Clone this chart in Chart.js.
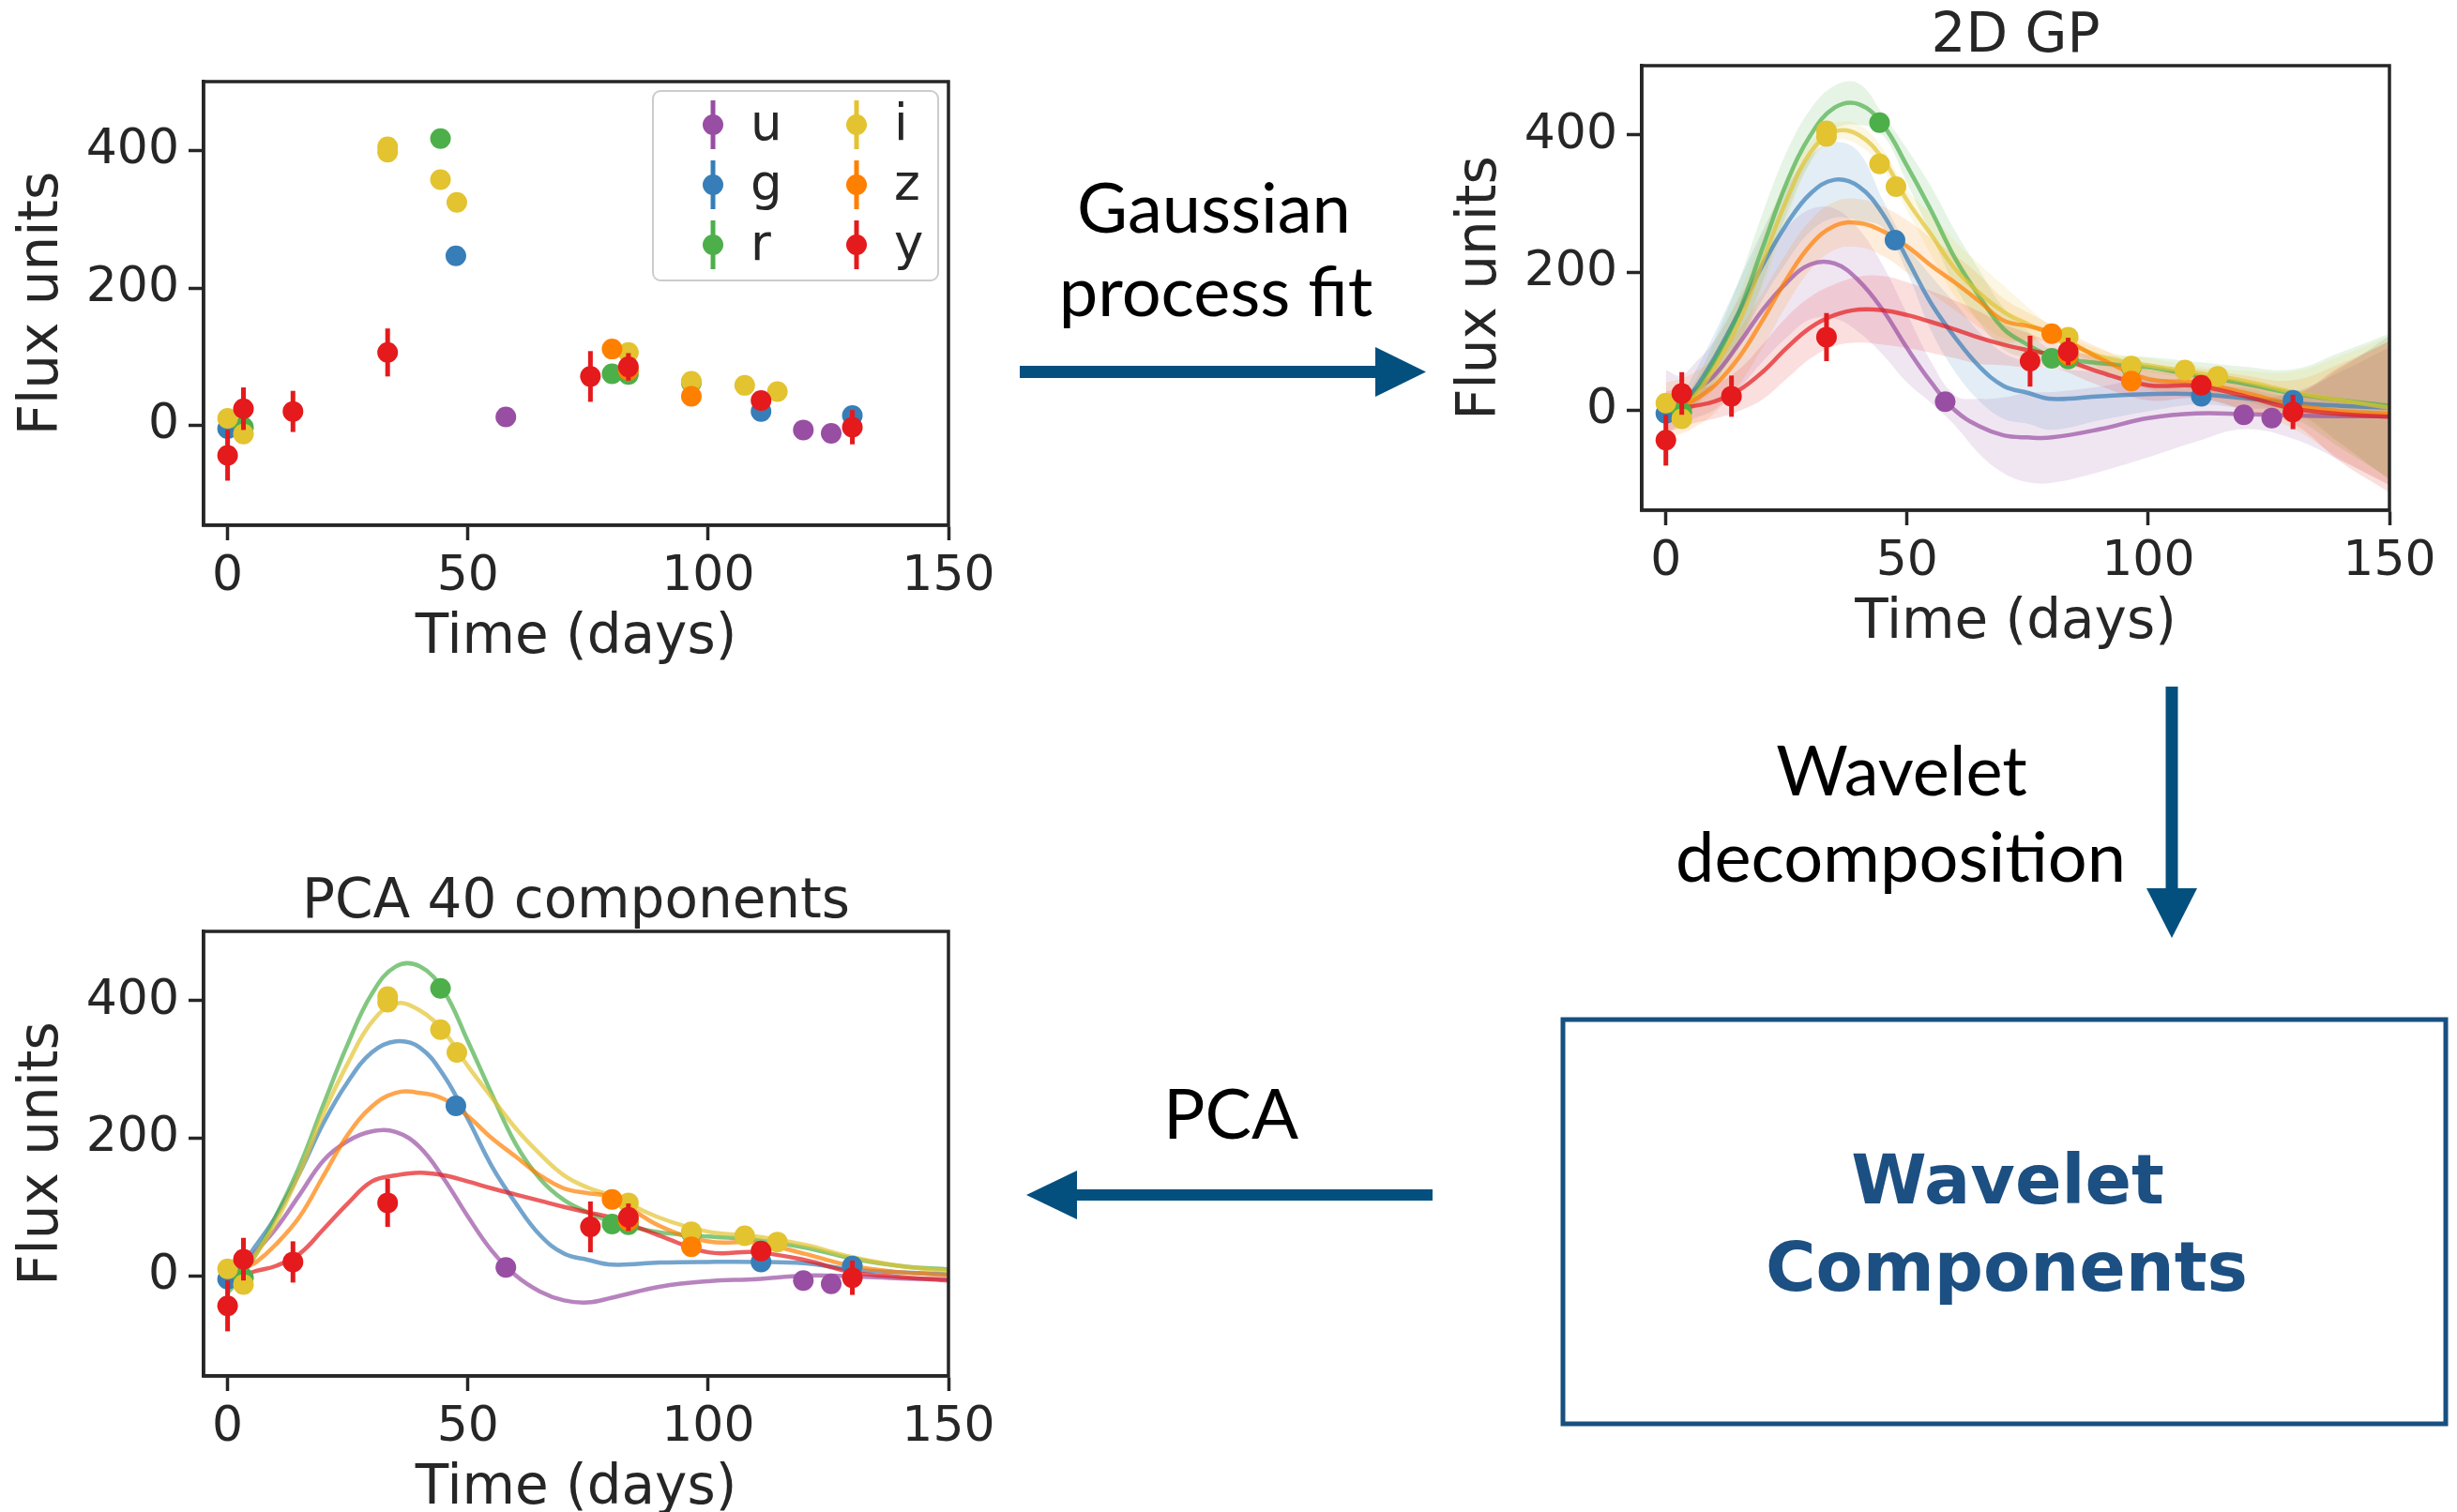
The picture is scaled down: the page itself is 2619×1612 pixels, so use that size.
<!DOCTYPE html>
<html>
<head>
<meta charset="utf-8">
<script src="https://cdn.jsdelivr.net/npm/chart.js@4.4.1/dist/chart.umd.min.js"></script>
<style>
  html, body { margin: 0; padding: 0; background: #fff; }
  body { width: 2619px; height: 1612px; position: relative; overflow: hidden; }
  canvas { position: absolute; }
  #overlay { position: absolute; left: 0; top: 0; }
</style>
</head>
<body>
<canvas id="rawChart" width="1080" height="720" style="left:0;top:0"></canvas>
<canvas id="gpChart" width="1083" height="704" style="left:1533px;top:0"></canvas>
<canvas id="pcaChart" width="1080" height="704" style="left:0;top:923px"></canvas>

<svg id="overlay" width="2619" height="1612" xmlns="http://www.w3.org/2000/svg">
  <g fill="#03507f">
    <rect x="1087" y="390" width="380" height="13"/>
    <polygon points="1466,370 1520,396.5 1466,423"/>
    <rect x="2308.5" y="732" width="13" height="216"/>
    <polygon points="2288,947 2342,947 2315,1000"/>
    <rect x="1147" y="1268" width="380" height="12"/>
    <polygon points="1148,1248 1094,1274 1148,1300"/>
  </g>
  <g font-family="Lato" font-size="74" text-anchor="middle" fill="#000">
    <text x="1294" y="248">Gaussian</text>
    <text x="1296" y="337">process fit</text>
    <text x="2027" y="848">Wavelet</text>
    <text x="2026" y="940">decomposition</text>
    <text x="1312" y="1214">PCA</text>
  </g>
  <rect x="1666" y="1087" width="941" height="431" fill="none" stroke="#18507f" stroke-width="5"/>
  <g font-family="DejaVu Sans" font-weight="bold" font-size="73" text-anchor="middle" fill="#1c4f82">
    <text x="2140" y="1283">Wavelet</text>
    <text x="2139" y="1376">Components</text>
  </g>
</svg>

<script>
// passbands and their colours
const bandNames = ['u', 'g', 'r', 'i', 'z', 'y']
const bandColors = ['#984ea3', '#377eb8', '#4daf4a', '#e3c330', '#ff7f00', '#e41a1c']

// observations: [time (days), flux, error]
const obsU = [[57.9, 12, 8], [119.8, -7, 8], [125.6, -12, 8]]
const obsG = [[0, -5, 6], [47.5, 247, 5], [111, 20, 6], [130, 14, 6]]
const obsR = [[3.3, -3, 6], [44.3, 418, 6], [80, 75, 6], [83.4, 74, 8], [96.5, 62, 6]]
const obsI = [[0, 10, 5], [3.3, -13, 5], [33.3, 406, 6], [33.3, 398, 6], [44.3, 358, 6], [47.7, 325, 6],
              [83.4, 106, 6], [96.5, 64, 6], [107.6, 58, 6], [114.4, 49, 6]]
const obsZ = [[80, 111, 12], [83.4, 80, 15], [96.5, 42, 8]]
const obsY = [[0, -44, 37], [3.3, 24, 31], [13.6, 20, 30], [33.3, 106, 35], [75.5, 71, 37],
              [83.4, 85, 20], [111, 36, 10], [130, -3, 25]]

// time grid of the fitted curves
const curveDays = [0, 3, 6, 10, 15, 20, 25, 30, 35, 40, 45, 50, 55, 60, 65, 70, 75, 80, 90, 100, 110, 120, 130, 140, 150]

// 2D GP mean
const gpU = [10, 15, 28, 50, 95, 145, 185, 212, 213, 188, 145, 90, 40, -1, -24, -37, -40, -40, -28, -12, -5, -6, -8, -9, -9]
const gpG = [-5, 5, 30, 75, 140, 210, 270, 315, 335, 325, 285, 220, 155, 105, 63, 35, 25, 16, 20, 23, 23, 17, 10, 6, 3]
const gpR = [-5, 3, 25, 70, 140, 235, 330, 400, 440, 445, 415, 355, 290, 220, 165, 118, 95, 78, 68, 62, 50, 38, 24, 14, 6]
const gpI = [10, 0, 20, 60, 125, 215, 305, 375, 405, 400, 365, 305, 255, 205, 170, 143, 125, 110, 78, 65, 54, 42, 26, 14, 3]
const gpZ = [0, 5, 15, 35, 75, 130, 190, 240, 268, 272, 260, 238, 210, 185, 158, 130, 122, 112, 75, 45, 40, 25, 8, -2, -5]
const gpY = [-3, 2, 6, 12, 28, 55, 90, 120, 138, 146, 145, 138, 128, 117, 105, 95, 87, 80, 55, 36, 35, 20, 2, -6, -10]

// 2D GP 1-sigma half widths
const sigU = [48, 35, 40, 50, 65, 75, 80, 80, 80, 75, 65, 50, 30, 22, 40, 55, 65, 66, 62, 57, 41, 22, 34, 65, 100]
const sigG = [15, 15, 25, 35, 45, 50, 55, 55, 55, 50, 20, 20, 40, 50, 50, 48, 45, 45, 35, 25, 15, 15, 12, 55, 105]
const sigR = [12, 10, 15, 30, 45, 50, 45, 38, 32, 30, 15, 25, 35, 40, 38, 30, 20, 10, 12, 15, 20, 25, 35, 70, 105]
const sigI = [10, 10, 15, 30, 40, 40, 30, 15, 12, 15, 15, 15, 30, 40, 42, 38, 25, 12, 10, 10, 10, 15, 30, 65, 105]
const sigZ = [40, 40, 40, 40, 40, 40, 38, 36, 35, 35, 36, 38, 40, 40, 38, 32, 20, 12, 15, 15, 20, 25, 35, 70, 105]
const sigY = [30, 28, 25, 25, 30, 40, 45, 45, 45, 48, 50, 48, 45, 42, 38, 30, 25, 18, 20, 22, 18, 20, 22, 70, 110]

// reconstruction from 40 PCA components
const pcaU = [-5, 14, 36, 68, 118, 168, 196, 210, 209, 187, 141, 86, 36, 0, -23, -36, -39, -32, -16, -8, -5, 0, -1, -4, -5]
const pcaG = [0, 18, 45, 86, 150, 223, 282, 325, 341, 332, 291, 228, 159, 105, 59, 32, 23, 16, 19, 20, 20, 18, 9, 5, 2]
const pcaR = [-25, 0, 32, 86, 160, 250, 337, 410, 450, 450, 414, 341, 264, 191, 141, 110, 92, 78, 63, 57, 52, 41, 25, 14, 9]
const pcaI = [-14, 5, 32, 77, 150, 237, 309, 369, 396, 386, 355, 305, 259, 214, 177, 146, 128, 116, 84, 64, 57, 45, 27, 14, 7]
const pcaZ = [-9, 9, 20, 45, 86, 146, 205, 246, 266, 266, 257, 232, 200, 173, 146, 127, 120, 114, 72, 50, 48, 32, 14, 5, 1]
const pcaY = [-7, 0, 7, 14, 32, 68, 105, 137, 146, 150, 146, 137, 127, 118, 109, 100, 92, 84, 58, 34, 34, 23, 5, -2, -7]

// axes
const xTickValues = [0, 50, 100, 150]
const yTickValues = [0, 200, 400]
const xRange = [-5, 150]
const yRange = [-146, 501]

const observations = [obsU, obsG, obsR, obsI, obsZ, obsY]
const gpMeans = [gpU, gpG, gpR, gpI, gpZ, gpY]
const gpSigmas = [sigU, sigG, sigR, sigI, sigZ, sigY]
const pcaMeans = [pcaU, pcaG, pcaR, pcaI, pcaZ, pcaY]

const ink = '#262626'
const fontFamily = 'DejaVu Sans'

const rgba = (hex, a) => {
    const n = parseInt(hex.slice(1), 16)
    return `rgba(${(n >> 16) & 255}, ${(n >> 8) & 255}, ${n & 255}, ${a})`
}

const pointsDataset = (i) => ({
    label: bandNames[i],
    data: observations[i].map(p => ({ x: p[0], y: p[1] })),
    errors: observations[i].map(p => p[2]),
    showLine: false,
    pointRadius: 11,
    pointHoverRadius: 11,
    pointBorderWidth: 0,
    pointBackgroundColor: bandColors[i],
    backgroundColor: bandColors[i],
    borderColor: bandColors[i],
    order: 10 - i
})

const curveDataset = (i, values) => ({
    label: bandNames[i] + ' curve',
    data: curveDays.map((t, k) => ({ x: t, y: values[k] })),
    borderColor: rgba(bandColors[i], 0.7),
    borderWidth: 4.5,
    pointRadius: 0,
    tension: 0.4,
    fill: false,
    order: 30 - i
})

const bandDatasets = (i) => {
    const mean = gpMeans[i]
    const sig = gpSigmas[i]
    return [{
        label: bandNames[i] + ' upper',
        data: curveDays.map((t, k) => ({ x: t, y: mean[k] + sig[k] })),
        borderWidth: 0,
        borderColor: 'transparent',
        pointRadius: 0,
        tension: 0.4,
        fill: false,
        order: 50 - i
    }, {
        label: bandNames[i] + ' lower',
        data: curveDays.map((t, k) => ({ x: t, y: mean[k] - sig[k] })),
        borderWidth: 0,
        borderColor: 'transparent',
        backgroundColor: rgba(bandColors[i], 0.14),
        pointRadius: 0,
        tension: 0.4,
        fill: '-1',
        order: 50 - i
    }]
}

// vertical error bars under the markers
const errorBarPlugin = {
    id: 'errorBars',
    beforeDatasetDraw: (chart, args) => {
        const dataset = chart.data.datasets[args.index]
        if (!dataset.errors) return
        const { ctx, scales: { x, y } } = chart
        ctx.save()
        ctx.strokeStyle = dataset.borderColor
        ctx.lineWidth = 5
        dataset.data.forEach((p, k) => {
            const xp = x.getPixelForValue(p.x)
            ctx.beginPath()
            ctx.moveTo(xp, y.getPixelForValue(p.y - dataset.errors[k]))
            ctx.lineTo(xp, y.getPixelForValue(p.y + dataset.errors[k]))
            ctx.stroke()
        })
        ctx.restore()
    }
}

// full frame round the plot
const framePlugin = {
    id: 'frame',
    afterDraw: (chart) => {
        const { ctx, chartArea } = chart
        ctx.save()
        ctx.strokeStyle = ink
        ctx.lineWidth = 3.5
        ctx.strokeRect(chartArea.left, chartArea.top, chartArea.right - chartArea.left, chartArea.bottom - chartArea.top)
        ctx.restore()
    }
}

// title centred over the plot area
const panelTitlePlugin = {
    id: 'panelTitle',
    afterDraw: (chart, args, opts) => {
        if (!opts.text) return
        const { ctx, chartArea } = chart
        ctx.save()
        ctx.fillStyle = ink
        ctx.font = `58px "${fontFamily}"`
        ctx.textAlign = 'center'
        ctx.textBaseline = 'middle'
        ctx.fillText(opts.text, (chartArea.left + chartArea.right) / 2, chartArea.top - 30)
        ctx.restore()
    }
}

// two-column legend with errorbar handles
const bandLegendPlugin = {
    id: 'bandLegend',
    afterDraw: (chart, args, opts) => {
        if (!opts.show) return
        const { ctx, chartArea } = chart
        const boxW = 304
        const boxH = 202
        const left = chartArea.right - 11 - boxW
        const top = chartArea.top + 10
        ctx.save()
        ctx.beginPath()
        ctx.roundRect(left, top, boxW, boxH, 8)
        ctx.fillStyle = 'rgba(255,255,255,0.8)'
        ctx.fill()
        ctx.strokeStyle = '#cccccc'
        ctx.lineWidth = 2
        ctx.stroke()

        const entries = chart.data.datasets.filter(d => d.errors)
        entries.forEach((d, i) => {
            const col = Math.floor(i / 3)
            const row = i % 3
            const mx = left + 64 + col * 153
            const my = top + 36 + row * 64
            ctx.strokeStyle = d.borderColor
            ctx.lineWidth = 5
            ctx.beginPath()
            ctx.moveTo(mx, my - 26)
            ctx.lineTo(mx, my + 26)
            ctx.stroke()
            ctx.fillStyle = d.backgroundColor
            ctx.beginPath()
            ctx.arc(mx, my, 11, 0, Math.PI * 2)
            ctx.fill()
            ctx.fillStyle = ink
            ctx.font = `53px "${fontFamily}"`
            ctx.textAlign = 'left'
            ctx.textBaseline = 'middle'
            ctx.fillText(d.label, mx + 40, my + 2)
        })
        ctx.restore()
    }
}

const makeOptions = (padTop, padRight, title, showLegend) => ({
    responsive: false,
    animation: false,
    devicePixelRatio: 1,
    layout: { padding: { left: 0, right: padRight, top: padTop, bottom: 0 } },
    plugins: {
        legend: { display: false },
        tooltip: { enabled: false },
        panelTitle: { text: title },
        bandLegend: { show: showLegend }
    },
    scales: {
        x: {
            type: 'linear',
            min: xRange[0],
            max: xRange[1],
            afterBuildTicks: (s) => { s.ticks = xTickValues.map(v => ({ value: v })) },
            afterFit: (s) => { s.height = 160 },
            grid: { display: true, drawOnChartArea: false, drawTicks: true, tickLength: 16, tickWidth: 3.5, tickColor: ink },
            border: { display: true, color: ink, width: 3.5 },
            ticks: { color: ink, font: { family: fontFamily, size: 52 }, padding: 8, maxRotation: 0, autoSkip: false },
            title: { display: true, text: 'Time (days)', color: ink, font: { family: fontFamily, size: 58 }, padding: { top: 0, bottom: 4 } }
        },
        y: {
            type: 'linear',
            min: yRange[0],
            max: yRange[1],
            afterBuildTicks: (s) => { s.ticks = yTickValues.map(v => ({ value: v })) },
            afterFit: (s) => { s.width = 217 },
            grid: { display: true, drawOnChartArea: false, drawTicks: true, tickLength: 16, tickWidth: 3.5, tickColor: ink },
            border: { display: true, color: ink, width: 3.5 },
            ticks: { color: ink, font: { family: fontFamily, size: 52 }, padding: 10 },
            title: { display: true, text: 'Flux units', color: ink, font: { family: fontFamily, size: 58 }, padding: { top: 11, bottom: 0 } }
        }
    }
})

const plugins = [errorBarPlugin, framePlugin, panelTitlePlugin, bandLegendPlugin]

// raw light curve
new Chart(document.getElementById('rawChart'), {
    type: 'line',
    data: { datasets: bandNames.map((b, i) => pointsDataset(i)) },
    options: makeOptions(87, 69, '', true),
    plugins
})

// 2D GP fit with uncertainty bands
new Chart(document.getElementById('gpChart'), {
    type: 'line',
    data: {
        datasets: [
            ...bandNames.flatMap((b, i) => bandDatasets(i)),
            ...bandNames.map((b, i) => curveDataset(i, gpMeans[i])),
            ...bandNames.map((b, i) => pointsDataset(i))
        ]
    },
    options: makeOptions(70, 69, '2D GP', false),
    plugins
})

// PCA reconstruction
new Chart(document.getElementById('pcaChart'), {
    type: 'line',
    data: {
        datasets: [
            ...bandNames.map((b, i) => curveDataset(i, pcaMeans[i])),
            ...bandNames.map((b, i) => pointsDataset(i))
        ]
    },
    options: makeOptions(70, 69, 'PCA 40 components', false),
    plugins
})
</script>
</body>
</html>
